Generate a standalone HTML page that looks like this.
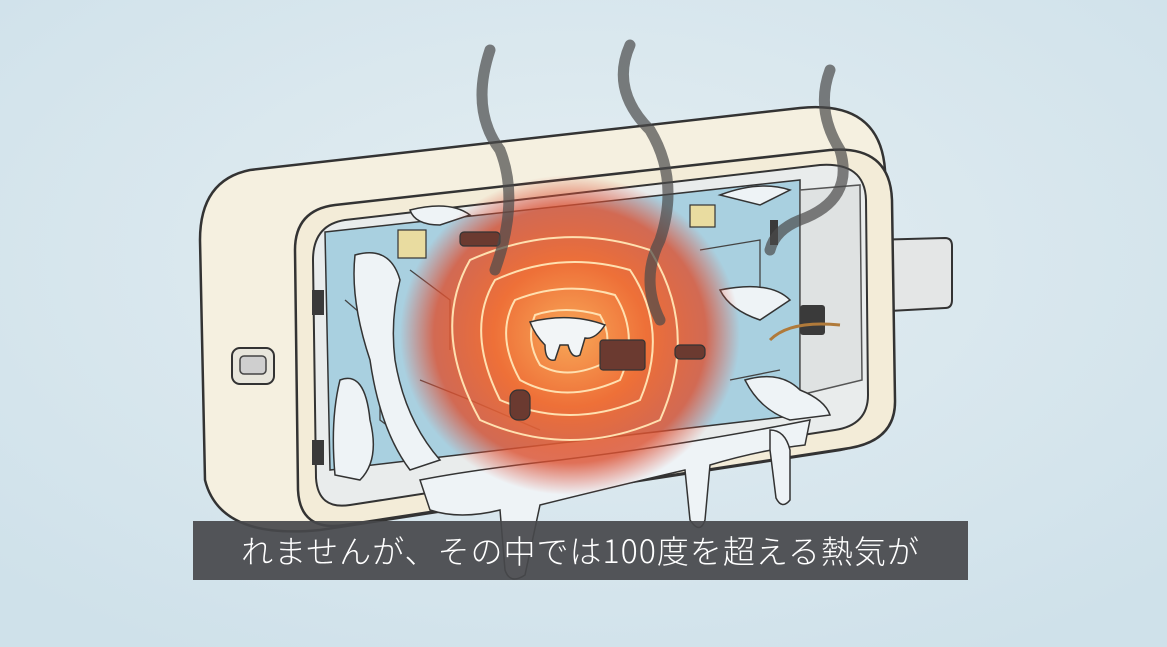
<!DOCTYPE html>
<html><head><meta charset="utf-8"><style>
html,body{margin:0;padding:0;width:1167px;height:647px;overflow:hidden;background:#d8e7ee}
svg{position:absolute;left:0;top:0}
.cap{position:absolute;left:193px;top:521px;width:775px;height:59px;background:rgba(70,72,75,0.92);color:#fff;font-family:"Noto Sans CJK JP","Liberation Sans",sans-serif;font-weight:300;font-size:32px;line-height:59px;text-align:center;letter-spacing:1px}
</style></head><body>
<svg width="1167" height="647" viewBox="0 0 1167 647">
<defs>
<radialGradient id="bg" cx="0.5" cy="0.4" r="0.7"><stop offset="0" stop-color="#e4eef2"/><stop offset="1" stop-color="#cfe1ea"/></radialGradient>
<radialGradient id="heat" cx="0.5" cy="0.5" r="0.5"><stop offset="0" stop-color="#f8a858"/><stop offset="0.45" stop-color="#ee7038"/><stop offset="0.8" stop-color="#dc5030" stop-opacity="0.8"/><stop offset="1" stop-color="#e05040" stop-opacity="0"/></radialGradient>
</defs>
<rect width="1167" height="647" fill="url(#bg)"/>
<path d="M870 240 L945 238 Q952 238 952 246 L952 300 Q952 308 945 308 L870 312 Z" fill="#e4e6e6" stroke="#333" stroke-width="2"/>
<path d="M250 170 L800 108 Q880 100 885 170 L890 400 Q892 440 840 450 L320 530 Q220 540 205 480 L200 240 Q200 180 250 170 Z" fill="#f5f0e0" stroke="#333" stroke-width="2.5"/>
<path d="M335 205 L830 150 Q890 145 892 200 L895 400 Q896 440 850 448 L345 525 Q300 532 298 490 L295 250 Q295 210 335 205 Z" fill="#f3ecd8" stroke="#333" stroke-width="2.5"/>
<path d="M345 220 L820 165 Q865 162 866 200 L868 395 Q868 425 835 430 L350 505 Q318 510 316 478 L313 260 Q313 225 345 220 Z" fill="#e9ecec" stroke="#333" stroke-width="2"/>
<path d="M325 232 L800 180 L800 415 L330 470 Z" fill="#a9d0e0" stroke="#333" stroke-width="1.5"/>
<g fill="none" stroke="#444" stroke-width="1.3">
<path d="M345 300 L380 330 L380 420 L420 450"/><path d="M410 270 L450 300 L450 350"/><path d="M700 250 L760 240 L760 300"/><path d="M730 380 L780 370"/><path d="M420 380 L470 400 L540 430"/>
</g>
<path d="M800 190 L860 185 L862 380 L800 395 Z" fill="#dfe2e2" stroke="#555" stroke-width="1.5"/>
<rect x="232" y="348" width="42" height="36" rx="8" fill="#e8e6dc" stroke="#333" stroke-width="2"/>
<rect x="240" y="356" width="26" height="18" rx="4" fill="#cfcfcf" stroke="#444" stroke-width="1.5"/>
<g fill="#eef3f6" stroke="#333" stroke-width="1.5">
<path d="M355 255 Q390 245 400 280 Q390 320 395 360 Q405 420 440 460 L410 470 Q380 430 370 360 Q350 300 355 255Z"/>
<path d="M340 380 Q365 370 370 420 Q380 460 360 480 L335 475 Q330 420 340 380Z"/>
<path d="M420 480 Q470 470 560 460 Q640 450 700 440 Q760 430 810 420 L805 445 Q760 450 710 465 L705 520 Q700 535 690 520 L685 470 Q600 490 540 505 L525 575 Q510 585 505 570 L500 510 Q460 520 430 510 Z"/>
<path d="M410 210 Q450 200 470 215 L440 225 Q415 225 410 210Z"/>
<path d="M720 195 Q760 180 790 190 L760 205 Z"/>
<path d="M745 380 Q780 370 800 390 Q825 400 830 415 L790 420 Q760 410 745 380Z"/>
<path d="M720 290 Q770 280 790 300 L760 320 Q730 310 720 290Z"/>
<path d="M770 430 Q785 430 790 450 L790 500 Q782 510 776 498 L770 450Z"/>
</g>
<ellipse cx="570" cy="335" rx="170" ry="160" fill="url(#heat)"/>
<g fill="none" stroke="#ffe0b0" stroke-width="2">
<path d="M470 260 Q560 220 650 250 Q700 330 660 420 Q570 460 480 420 Q430 330 470 260Z"/>
<path d="M495 280 Q560 250 630 270 Q670 330 640 400 Q570 430 500 400 Q465 330 495 280Z"/>
<path d="M515 300 Q565 280 615 295 Q640 335 620 380 Q565 405 520 380 Q495 335 515 300Z"/>
<path d="M535 315 Q565 305 600 315 Q615 340 600 365 Q565 380 540 365 Q525 340 535 315Z"/>
</g>
<path d="M530 322 Q570 312 605 325 Q595 340 585 338 L580 355 Q572 360 568 345 L560 345 L555 360 Q545 362 545 345 Q535 335 530 322Z" fill="#f2f5f7" stroke="#333" stroke-width="1.5"/>
<g fill="#6b3a30" stroke="#333" stroke-width="1.2">
<rect x="460" y="232" width="40" height="14" rx="4"/>
<rect x="600" y="340" width="45" height="30" rx="3"/>
<rect x="510" y="390" width="20" height="30" rx="8"/>
<rect x="675" y="345" width="30" height="14" rx="5"/>
</g>
<g fill="#3a3a3a">
<rect x="312" y="290" width="12" height="25"/><rect x="312" y="440" width="12" height="25"/>
<rect x="800" y="305" width="25" height="30" rx="3"/>
<rect x="770" y="220" width="8" height="25"/>
</g>
<rect x="398" y="230" width="28" height="28" fill="#e9dca0" stroke="#333" stroke-width="1.2"/>
<rect x="690" y="205" width="25" height="22" fill="#e9dca0" stroke="#333" stroke-width="1.2"/>
<path d="M770 340 Q790 320 840 325" fill="none" stroke="#b07a3a" stroke-width="3"/>
<g fill="none" stroke="#4a4a4a" stroke-opacity="0.7" stroke-width="11" stroke-linecap="round">
<path d="M490 50 Q470 110 500 150 Q520 200 495 270"/>
<path d="M630 45 Q610 90 650 130 Q680 180 660 240 Q640 280 660 320"/>
<path d="M830 70 Q815 110 840 150 Q855 200 800 220 Q775 230 770 250"/>
</g>
</svg>
<div class="cap">れませんが、その中では100度を超える熱気が</div>
</body></html>
